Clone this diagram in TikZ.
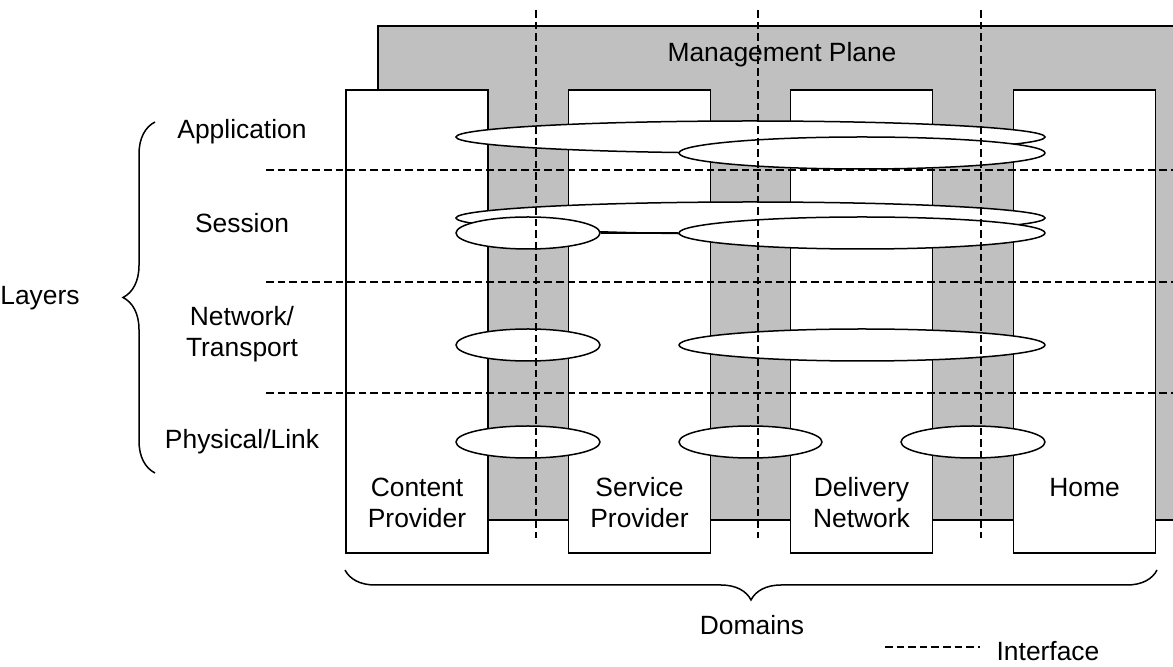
\documentclass[tikz,border=0pt]{standalone}
\usepackage{fontspec}
\setmainfont{Liberation Sans}
\usepackage{xcolor}
\usepackage{tikz}
\usetikzlibrary{shapes.geometric, decorations.pathreplacing}

\definecolor{planegray}{RGB}{192,192,192}

\begin{document}
\begin{tikzpicture}[x=0.5pt, y=-0.5pt,
	every node/.style={font=\fontsize{13.2}{15.5}\selectfont},
	domainbox/.style={rectangle, line width=0.75pt, fill=white, draw, minimum width=71pt, minimum height=231.5pt, inner sep=0pt},
	link/.style={ellipse, line width=0.75pt, fill=white, draw, minimum height=16pt, inner sep=0pt},
	iface/.style={line width=0.6pt, dash pattern=on 3.8pt off 2pt},
	layer/.style={align=center}]
\useasboundingbox (0,0) rectangle (1173,667);

\draw[line width=0.75pt, fill=planegray] (378,26) rectangle (1180,520);

\node[anchor=base] (mgmt) at (782,62) {Management Plane};

\node[domainbox] (content) at (417,321.5) {};

\node[domainbox] (service) at (639.5,321.5) {};

\node[domainbox] (delivery) at (861.5,321.5) {};

\node[domainbox] (home) at (1084.5,321.5) {};

\node[layer] (content-lbl) at (417,503) {Content\\Provider};

\node[layer] (service-lbl) at (639.5,503) {Service\\Provider};

\node[layer] (delivery-lbl) at (861.5,503) {Delivery\\Network};

\node[anchor=base] (home-lbl) at (1084.5,497) {Home};

\node[link, minimum width=294.5pt] (app-all) at (750.5,137) {};
\node[link, minimum width=183pt] (app-right) at (862,153) {};

\node[link, minimum width=294.5pt] (ses-all) at (750.5,218) {};
\node[link, minimum width=72pt] (ses-left) at (528,233) {};
\node[link, minimum width=183pt] (ses-right) at (862,233) {};
\draw[line width=0.75pt] (ses-left) -- (ses-right);

\node[link, minimum width=72pt] (net-left) at (528,345) {};
\node[link, minimum width=183pt] (net-right) at (862,345) {};

\node[link, minimum width=72pt] (phy-left) at (528,442) {};
\node[link, minimum width=71.5pt] (phy-mid) at (750.5,442) {};
\node[link, minimum width=72pt] (phy-right) at (973,442) {};

\foreach \x in {536,758,981}
	\draw[iface] (\x,10) -- (\x,538);

\foreach \y in {170,282,393}
	\draw[iface] (266,\y) -- (1180,\y);

\node[anchor=base] (application) at (242,139) {Application};

\node[anchor=base] (session) at (242,233) {Session};

\node[layer] (transport) at (242,334) {Network/\\Transport};

\node[anchor=base] (physical) at (242,449) {Physical/Link};

\draw[line width=0.75pt, decorate, decoration={brace, amplitude=16pt}] (155,473) -- (155,122);

\node[anchor=base] (layers) at (40,305) {Layers};

\draw[line width=0.75pt, decorate, decoration={brace, amplitude=15pt}] (1157,570) -- (345,570);

\node[anchor=base] (domains) at (752,635) {Domains};

\coordinate (legend-a) at (885,647);
\coordinate (legend-b) at (980,647);
\draw[iface] (legend-a) -- (legend-b);

\node[anchor=base] (interface) at (1048,661) {Interface};

\end{tikzpicture}
\end{document}
